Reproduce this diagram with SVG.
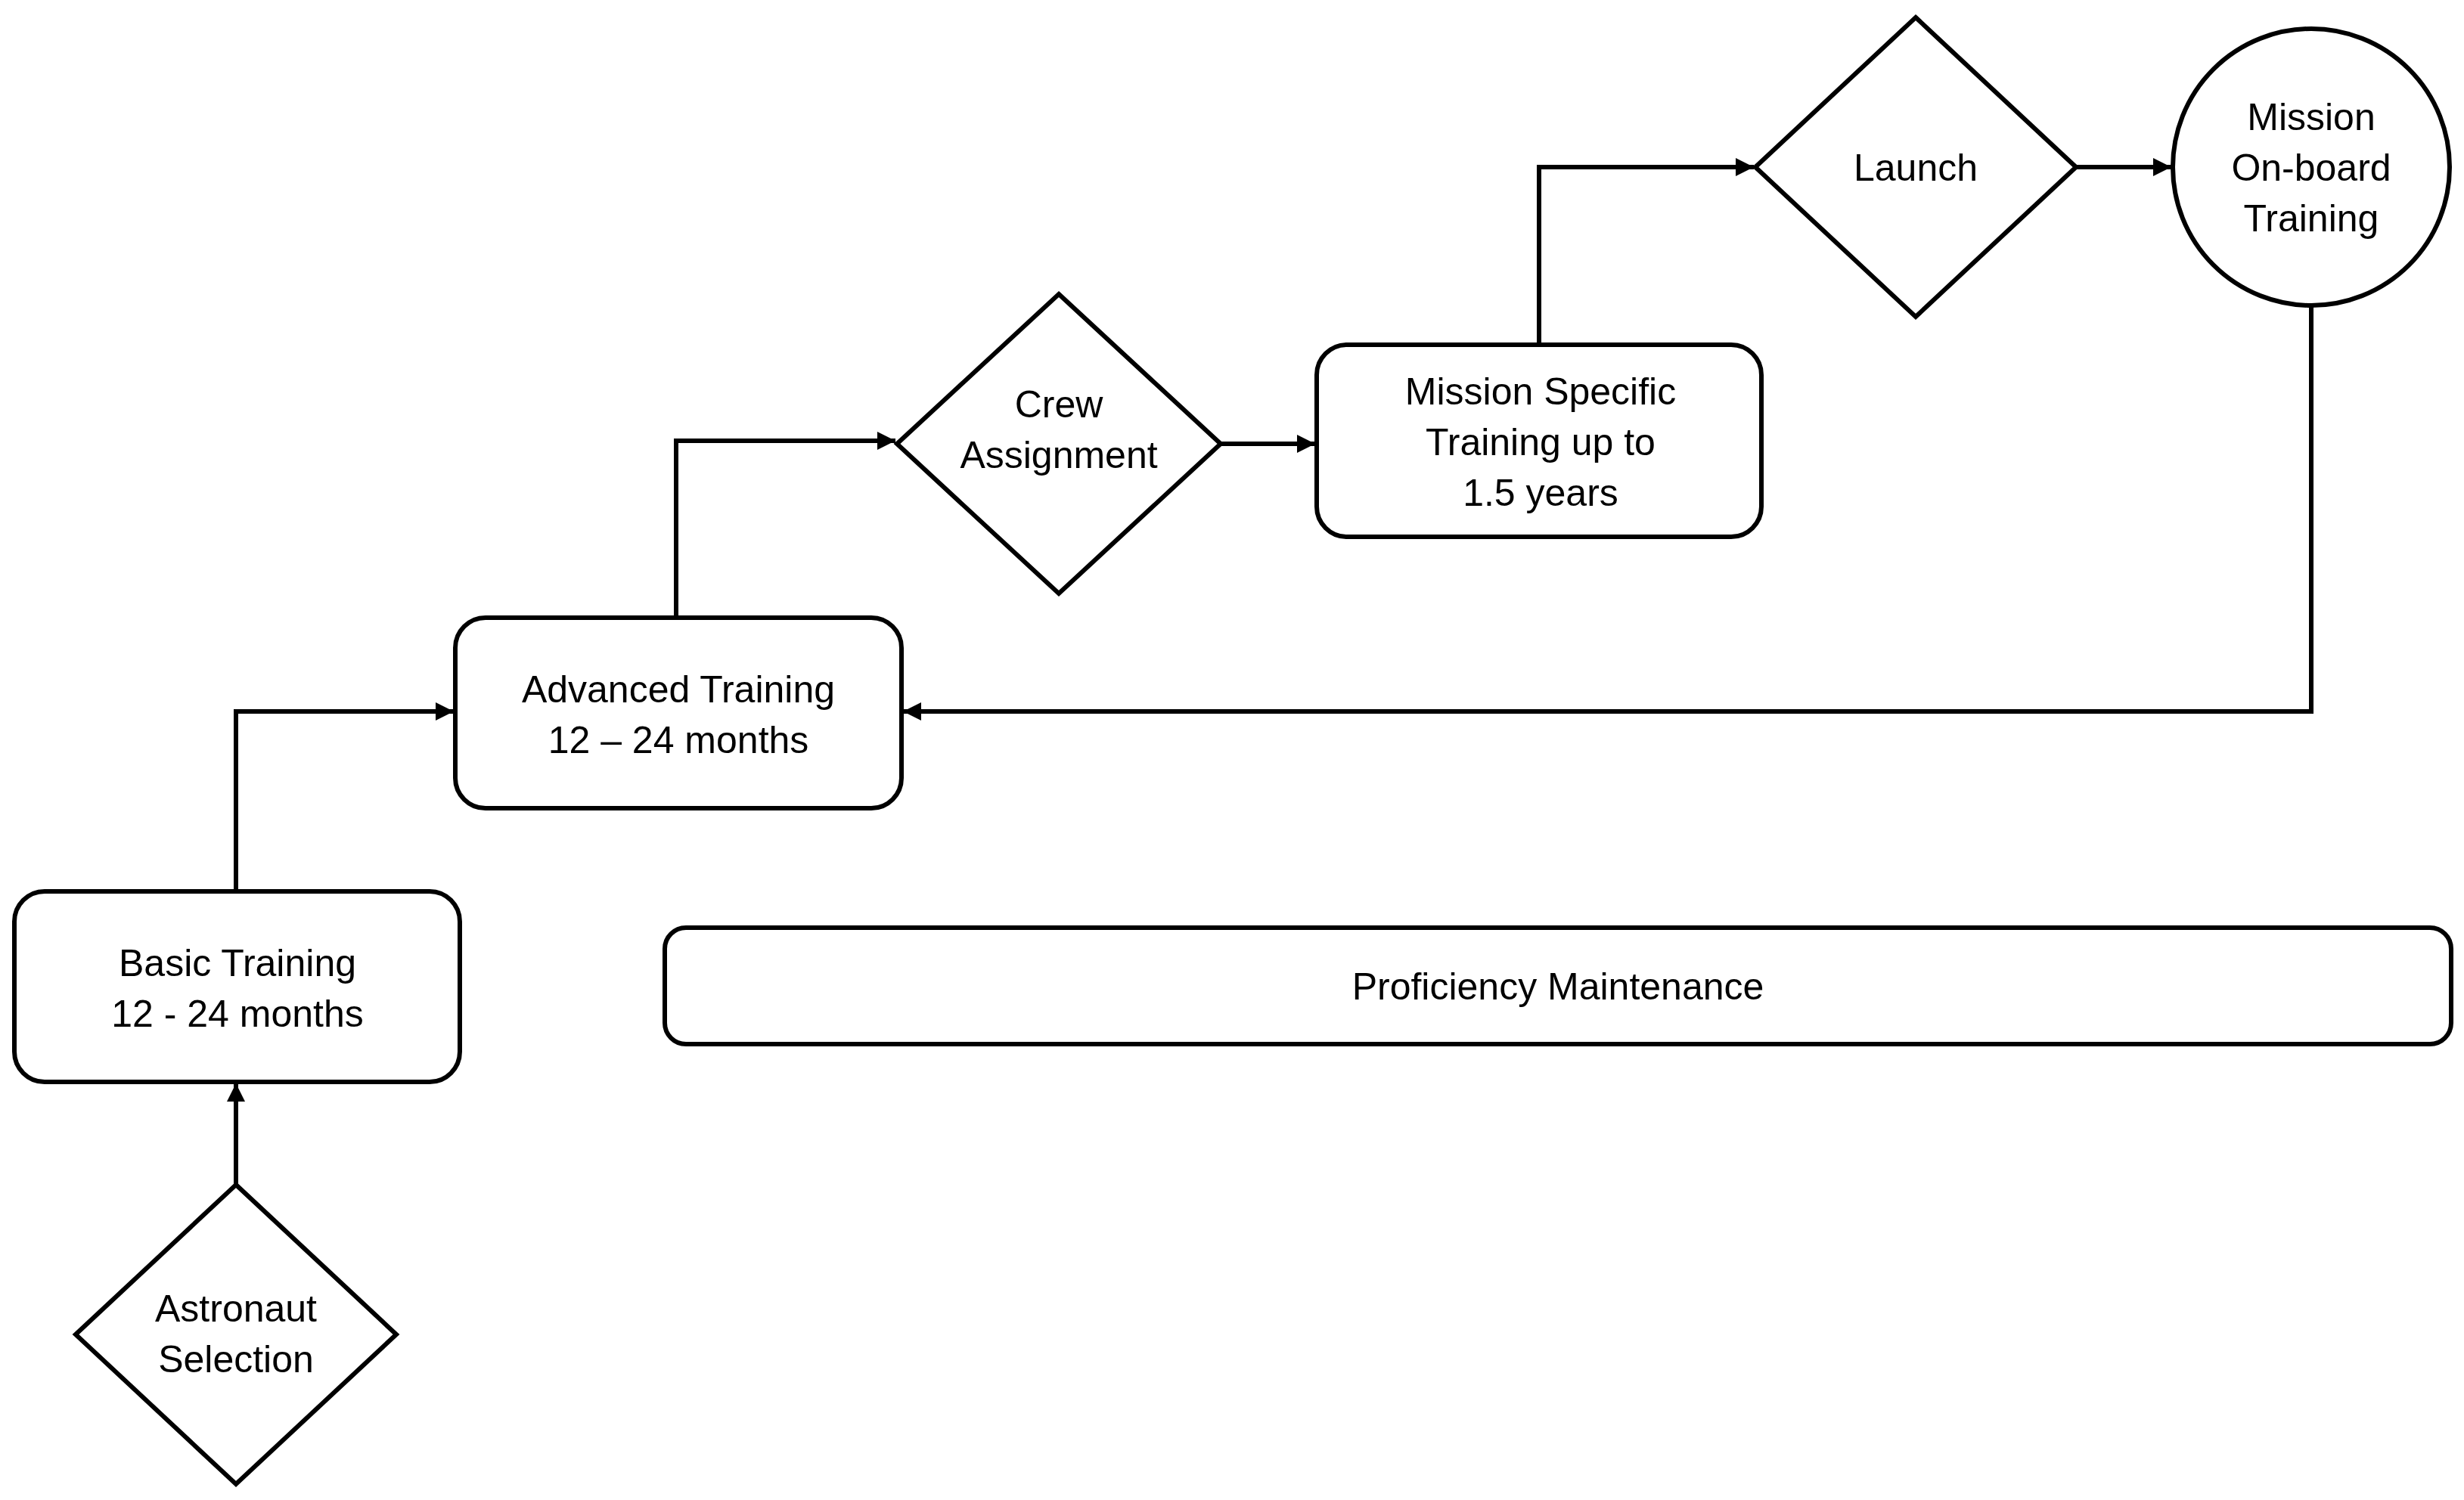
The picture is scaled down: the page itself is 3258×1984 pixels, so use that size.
<svg xmlns="http://www.w3.org/2000/svg" width="3258" height="1984" viewBox="0 0 3258 1984">
<style>
.s{fill:#fff;stroke:#000;stroke-width:6}
.t{font-family:"Liberation Sans",Arial,sans-serif;font-size:50px;fill:#000;text-anchor:middle}
.c{fill:none;stroke:#000;stroke-width:6}
</style>
<defs><marker id="a" viewBox="0 0 10 10" refX="10" refY="5" markerWidth="4" markerHeight="4" orient="auto" markerUnits="strokeWidth"><path d="M0,0L10,5L0,10z" fill="#000"/></marker></defs>
<rect width="3258" height="1984" fill="#fff"/>
<g id="connectors">
<path class="c" marker-end="url(#a)" d="M312,1567V1433"/>
<path class="c" marker-end="url(#a)" d="M312,1179V941H600"/>
<path class="c" marker-end="url(#a)" d="M894,817V583H1184"/>
<path class="c" marker-end="url(#a)" d="M1614,587H1739"/>
<path class="c" marker-end="url(#a)" d="M2035,456V221H2319"/>
<path class="c" marker-end="url(#a)" d="M2745,221H2871"/>
<path class="c" marker-end="url(#a)" d="M3056,404V941H1194"/>
</g>
<g id="selection"><polygon class="s" points="312,1567 524,1765 312,1963 100,1765"/><text class="t" x="312" y="1748">Astronaut</text><text class="t" x="312" y="1815">Selection</text></g>
<g id="basic"><rect class="s" x="19" y="1179" width="589" height="252" rx="40"/><text class="t" x="314" y="1291">Basic Training</text><text class="t" x="314" y="1358">12 - 24 months</text></g>
<g id="advanced"><rect class="s" x="602" y="817" width="590" height="252" rx="40"/><text class="t" x="897" y="929">Advanced Training</text><text class="t" x="897" y="996">12 – 24 months</text></g>
<g id="crew"><polygon class="s" points="1400,389 1614,587 1400,785 1186,587"/><text class="t" x="1400" y="552">Crew</text><text class="t" x="1400" y="619">Assignment</text></g>
<g id="mission"><rect class="s" x="1741" y="456" width="588" height="254" rx="40"/><text class="t" x="2037" y="535">Mission Specific</text><text class="t" x="2037" y="602">Training up to</text><text class="t" x="2037" y="669">1.5 years</text></g>
<g id="launch"><polygon class="s" points="2533,23 2745,221 2533,419 2321,221"/><text class="t" x="2533" y="239">Launch</text></g>
<g id="onboard"><circle class="s" cx="3056" cy="221" r="183"/><text class="t" x="3056" y="172">Mission</text><text class="t" x="3056" y="239">On-board</text><text class="t" x="3056" y="306">Training</text></g>
<g id="proficiency"><rect class="s" x="879" y="1227" width="2362" height="154" rx="28"/><text class="t" x="2060" y="1322">Proficiency Maintenance</text></g>
</svg>
